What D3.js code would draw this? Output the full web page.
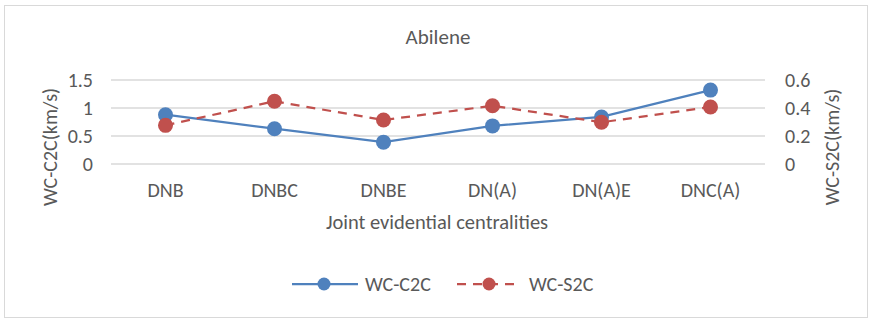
<!DOCTYPE html>
<html><head><meta charset="utf-8">
<script src="https://cdn.jsdelivr.net/npm/d3@7"></script>
<style>body{margin:0;background:#fff}svg{display:block}text{font-family:Carlito,"Open Sans",sans-serif;fill:#595959}</style>
</head><body><svg id="c" width="872" height="320"></svg>
<script>
const categories = ["DNB","DNBC","DNBE","DN(A)","DN(A)E","DNC(A)"];
const c2c = [0.88,0.63,0.39,0.68,0.84,1.32];
const s2c = [0.276,0.448,0.314,0.416,0.298,0.407];
const leftTicks = [0,0.5,1,1.5];
const rightTicks = [0,0.2,0.4,0.6];
const blue = "#4F81BD", red = "#C0504D";

const svg = d3.select("#c");
svg.append("rect").attr("x",4.5).attr("y",5.5).attr("width",863).attr("height",312).attr("fill","#fff").attr("stroke","#d9d9d9");

const x = d3.scaleBand().domain(categories).range([111,765]);
const yL = d3.scaleLinear().domain([0,1.5]).range([164,80]);
const yR = d3.scaleLinear().domain([0,0.6]).range([164,80]);

const g = svg.append("g");
leftTicks.forEach(t=>{
  g.append("line").attr("x1",111).attr("x2",765).attr("y1",yL(t)).attr("y2",yL(t)).attr("stroke","#d9d9d9").attr("stroke-width",1.5);
});
const yAxisL = d3.axisLeft(yL).tickValues(leftTicks).tickSize(0).tickPadding(8).tickFormat(d=>String(d));
const ga = svg.append("g").attr("transform","translate(101,0)").call(yAxisL);
ga.select(".domain").remove();
ga.selectAll("text").style("font-size","20px").attr("fill","#595959");
const yAxisR = d3.axisRight(yR).tickValues(rightTicks).tickSize(0).tickPadding(8).tickFormat(d=>String(d));
const gr = svg.append("g").attr("transform","translate(777,0)").call(yAxisR);
gr.select(".domain").remove();
gr.selectAll("text").style("font-size","20px").attr("fill","#595959");
const xAxis = d3.axisBottom(x).tickSize(0).tickPadding(0);
const gx = svg.append("g").attr("transform","translate(0,197)").call(xAxis);
gx.select(".domain").remove();
gx.selectAll("text").attr("y",0).attr("dy",0).style("font-size","20px").attr("fill","#595959");

const cx = d=>x(d)+x.bandwidth()/2;
const lineL = d3.line().x((d,i)=>cx(categories[i])).y(d=>yL(d));
const lineR = d3.line().x((d,i)=>cx(categories[i])).y(d=>yR(d));
svg.append("path").attr("d",lineL(c2c)).attr("fill","none").attr("stroke",blue).attr("stroke-width",2.25);
svg.append("g").selectAll("circle").data(c2c).join("circle").attr("cx",(d,i)=>cx(categories[i])).attr("cy",d=>yL(d)).attr("r",7.5).attr("fill",blue);
svg.append("path").attr("d",lineR(s2c)).attr("fill","none").attr("stroke",red).attr("stroke-width",2.25).attr("stroke-dasharray","9,7");
svg.append("g").selectAll("circle").data(s2c).join("circle").attr("cx",(d,i)=>cx(categories[i])).attr("cy",d=>yR(d)).attr("r",7.5).attr("fill",red);

svg.append("text").attr("x",438).attr("y",44).attr("text-anchor","middle").style("font-size","21px").text("Abilene");
svg.append("text").attr("x",437).attr("y",229).attr("text-anchor","middle").style("font-size","20.5px").text("Joint evidential centralities");
svg.append("text").attr("transform","translate(57,147) rotate(-90)").attr("text-anchor","middle").style("font-size","20px").text("WC-C2C(km/s)");
svg.append("text").attr("transform","translate(839,147) rotate(-90)").attr("text-anchor","middle").style("font-size","20px").text("WC-S2C(km/s)");

// legend
const lg = svg.append("g");
lg.append("line").attr("x1",292).attr("x2",358).attr("y1",284).attr("y2",284).attr("stroke",blue).attr("stroke-width",2.25);
lg.append("circle").attr("cx",324).attr("cy",284).attr("r",6.5).attr("fill",blue);
lg.append("text").attr("x",365).attr("y",291).style("font-size","20px").text("WC-C2C");
lg.append("line").attr("x1",457).attr("x2",518).attr("y1",284).attr("y2",284).attr("stroke",red).attr("stroke-width",2.25).attr("stroke-dasharray","9,7");
lg.append("circle").attr("cx",489).attr("cy",284).attr("r",6.5).attr("fill",red);
lg.append("text").attr("x",529).attr("y",291).style("font-size","20px").text("WC-S2C");
</script></body></html>
